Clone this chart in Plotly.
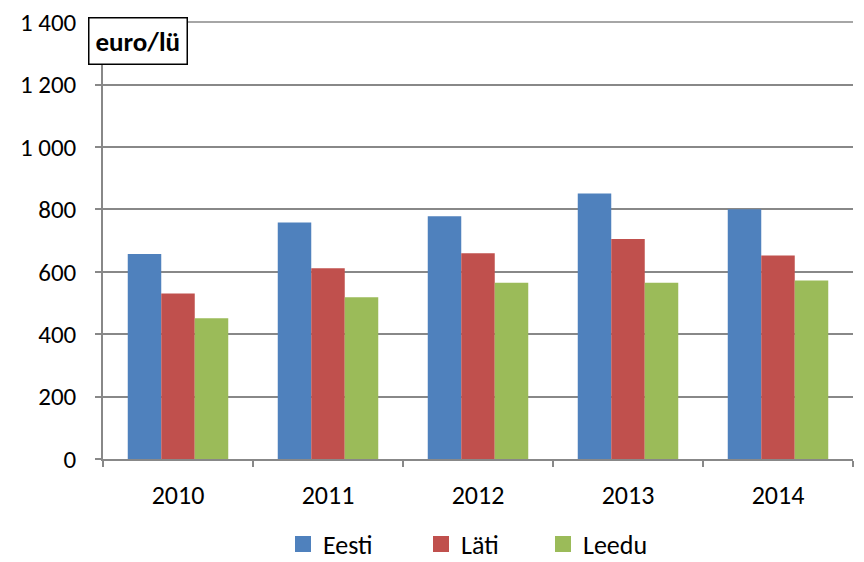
import plotly.graph_objects as go

years = ["2010", "2011", "2012", "2013", "2014"]
eesti = [657, 758, 778, 851, 800]
lati = [530, 611, 659, 705, 652]
leedu = [451, 518, 565, 565, 572]
y_ticks = [0, 200, 400, 600, 800, 1000, 1200, 1400]

names = ["Eesti", "Läti", "Leedu"]
colors = ["#4F81BD", "#C0504D", "#9BBB59"]
values = [eesti, lati, leedu]

font_family = "Carlito, Calibri, Lato, sans-serif"

# page body has an 8px margin: figure is drawn at (8, 8) in the window
W, H = 856, 554
legend_x_px = [275, 413, 535]   # left of each legend item, figure pixels

fig = go.Figure()
for name, vals, color in zip(names, values, colors):
    fig.add_trace(go.Bar(x=years, y=vals, name=name, marker_color=color,
                         marker_line_width=0, showlegend=False))
legend_ids = ["legend", "legend2", "legend3"]
for name, color, lid in zip(names, colors, legend_ids):
    fig.add_trace(go.Scatter(x=[None], y=[None], mode="markers", name=name,
                             legend=lid,
                             marker=dict(symbol="square", size=16, color=color)))

legend_common = dict(orientation="h", xanchor="left", xref="container",
                     y=(H - 536) / H, yanchor="middle", yref="container",
                     font=dict(size=26), itemwidth=30, bgcolor="rgba(0,0,0,0)")

fig.update_layout(
    width=W, height=H,
    margin=dict(l=95, r=11, t=14, b=103, autoexpand=False),
    paper_bgcolor="white", plot_bgcolor="white",
    barmode="group", bargap=0.33, bargroupgap=0,
    separators=", ",
    font=dict(family=font_family, size=25, color="black"),
    legend=dict(x=legend_x_px[0] / W, **legend_common),
    legend2=dict(x=legend_x_px[1] / W, **legend_common),
    legend3=dict(x=legend_x_px[2] / W, **legend_common),
    xaxis=dict(type="category", showline=True, linecolor="#888888", linewidth=1.5,
               ticks="outside", tickson="boundaries", ticklen=6, tickcolor="#888888",
               tickwidth=1.5, tickfont=dict(size=26), showgrid=False, automargin=False,
               ticklabelstandoff=12),
    yaxis=dict(range=[0, 1400.5], tickmode="array", tickvals=y_ticks, tickformat=",d",
               showline=True, linecolor="#888888", linewidth=1.5, ticks="outside",
               ticklen=6, tickcolor="#888888", tickwidth=1.5, showgrid=True,
               gridcolor="#888888", gridwidth=1.5, zeroline=False,
               tickfont=dict(size=25), automargin=False, ticklabelstandoff=14,
               ticklabeloverflow="allow"),
    # top gridline (at the upper end of the axis range), drawn as an unclipped line
    shapes=[dict(type="line", xref="paper", x0=0, x1=1, yref="paper", y0=1, y1=1,
                 layer="above", line=dict(color="#888888", width=1.5))],
    annotations=[dict(text="<b>euro/lü</b>", xref="paper", yref="paper", x=0, y=1,
                      xanchor="left", yanchor="top", xshift=-15, yshift=5,
                      showarrow=False, bgcolor="white", bordercolor="black",
                      borderwidth=1.5, borderpad=6, font=dict(size=27))],
)

fig.write_html("out.html")
